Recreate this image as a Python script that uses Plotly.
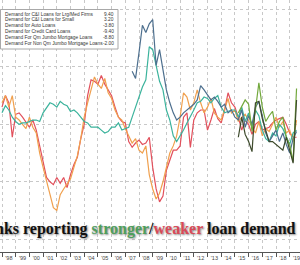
import plotly.graph_objects as go

# ---------------- data (net % of banks, quarterly from 1998 Q1) ----------------
start_year = 1998
q_step = 0.25

ci_large = [12, 20, 15, -9,   7, 8, 5, 1,   -2, 3, -4, -15,
            -25, -37, -40, -42,   -37, -41, -37, -44,   -35, -28, -23, -10,
            0, 20, 31, 30,   28, 34, 28, 24,   20, 12, 5, 2,
            1, -12, -16, -13,   -11, -14, -13, -9,   -30, -45, -54, -50,
            -32, -25, -18, -18,   -15, 5, 8, -16,   3, 8, 10, 10,
            -4, 3, 11, 4,   1, 10, 22, 15,   12, 5, -4, 3,
            0, -7, 0, 2,   -4, -3, -2, 1,   3, 4, 5, 0,   -6, -9, -9]

ci_small = [15, 20, 12, 20,   5, 3, 0, -3,   5, -2, -6, -20,
            -30, -40, -50, -58,   -60, -49, -45, -41,   -38, -30, -22, -10,
            5, 15, 25, 33,   28, 25, 32, 22,   18, 10, 5, 3,
            -3, -8, -13, -10,   -18, -20, -15, -35,   -45, -52, -48, -40,
            -30, -20, -15, -8,   5, 22, 19, 10,   15, 24, 15, 8,
            12, 18, 8, 5,   3, 10, 18, 8,   10, 2, 5, 7,
            3, -2, -6, 2,   -8, -3, -5, 0,   5, -2, 2, -6,   -4, -12, 3]

auto = [8, 13, 10, 5,   2, 0, 1, 1,   2, 3, 3, 2,
        8, 12, 15, 14,   12, 16, 14, 13,   9, 10, 8, 5,
        2, 1, -2, -2,   -2, -4, -6, -5,   -2, -2, 1, -4,
        -3, -2, 5, 12,   18, 26, 31, 54,   52, 40, 30, 24,
        10, 3, -8, -12,   -8, -4, 1, 5,   10, 15, 16, 19,
        18, 15, 18, 20,   12, 8, 9, 10,   10, 5, 12, 2,
        8, -2, 10, 6,   -4, -10, -12, -6,   -8, 0, -3, -8,   -14, -6, -4]

card_start = 38   # 2007 Q3
credit_card = [37, 32,   50, 69, 64, 70,   73, 41, 52, 38,
               24, 15, 8, 3,   5, 8, 10, 12,   14, 17, 27, 24,
               20, 17, 19, 16,   12, 14, 8, 10,   5, 3, 10, -2,
               6, 0, 12, 16,   6, -6, -12, -8,   -4, -12, -6, -14,   -20, -10, -5]

jumbo_start = 69  # 2015 Q2
qm_jumbo = [8, 12, 17,   14, -5, 10, 29,   12, 2, 6, 9,
            -4, 2, 5, -9,   -14, -26, 25]
non_qm_jumbo = [-9, 5, -7,   -12, -19, 15, 16,   4, -4, -12, -12,
                -14, -16, -18, -9,   -18, -27, 17]

series_names = ["Demand for C&I Loans for Lrg/Med Firms",
                "Demand for C&I Loans for Small",
                "Demand for Auto Loans",
                "Demand for Credit Card Loans",
                "Demand For Qm Jumbo Mortgage Loans",
                "Demand For Non Qm Jumbo Mortgage Loans"]
legend_values = ["9.40", "3.20", "-3.80", "-9.40", "-8.80", "-2.00"]

year_labels = ["'98", "'99", "'00", "'01", "'02", "'03", "'04", "'05", "'06", "'07", "'08",
               "'09", "'10", "'11", "'12", "'13", "'14", "'15", "'16", "'17", "'18", "'19"]

title_black = "% of Banks reporting "
title_green = "stronger"
title_red = "weaker"
title_end = " loan demand"

# ---------------- styling ----------------
colors = ["#e2505c", "#f0a04e", "#3bb39c", "#4d6f8e", "#72a83c", "#3d4a2c"]
W, H, B = 300, 265, 13
PH = H - B


def px(x):
    return x / W


def py(y):
    return 1 - y / PH


def times(start, n):
    return [start_year + q_step * (start + i) for i in range(n)]


all_series = [(ci_large, 0), (ci_small, 0), (auto, 0), (credit_card, card_start),
              (qm_jumbo, jumbo_start), (non_qm_jumbo, jumbo_start)]

fig = go.Figure()
for (vals, st), name, col in zip(all_series, series_names, colors):
    fig.add_trace(go.Scatter(x=times(st, len(vals)), y=vals, mode="lines", name=name,
                             line=dict(color=col, width=1.2), showlegend=False,
                             hoverinfo="skip"))

years = list(range(start_year, start_year + len(year_labels)))

fig.update_layout(
    width=W, height=H,
    margin=dict(l=0, r=0, t=0, b=B),
    paper_bgcolor="white", plot_bgcolor="white",
    xaxis=dict(range=[1997.854, 2019.752],
               tickmode="array", tickvals=[y + 0.5 for y in years], ticktext=year_labels,
               ticks="", showgrid=False, zeroline=False, ticklabeloverflow="allow",
               showline=True, linecolor="#555", linewidth=1,
               tickfont=dict(family="Liberation Sans", size=5.5, color="#444"),
               minor=dict(tickmode="array", tickvals=years, ticks="outside", ticklen=4,
                          tickcolor="#555", showgrid=True, gridcolor="#c8c8c8",
                          griddash="dot", gridwidth=1)),
    yaxis=dict(range=[-88.9, 86.6], tickmode="array", tickvals=[-80, -40, 0, 40, 80],
               showticklabels=False, ticks="", showgrid=True, gridcolor="#c8c8c8",
               griddash="dot", zeroline=False, showline=False),
)

# legend box
fig.add_shape(type="rect", xref="paper", yref="paper",
              x0=px(0.5), x1=px(118), y0=py(49), y1=py(9.5),
              line=dict(color="#a8a8a8", width=1), fillcolor="white", layer="above")
row_y = [14, 20, 25.8, 31.6, 37.4, 43.2]
for name, val, ry in zip(series_names, legend_values, row_y):
    fig.add_annotation(xref="paper", yref="paper", x=px(2.5), y=py(ry), text=name,
                       xanchor="left", yanchor="middle", showarrow=False,
                       font=dict(family="Liberation Sans", size=4.8, color="#333"))
    fig.add_annotation(xref="paper", yref="paper", x=px(116.5), y=py(ry), text=val,
                       xanchor="right", yanchor="middle", showarrow=False,
                       font=dict(family="Liberation Sans", size=4.8, color="#333"))

# big overlay title
title_html = (title_black
              + "<span style='color:#4f9e5c'>" + title_green + "</span>/"
              + "<span style='color:#d84a58'>" + title_red + "</span>"
              + title_end)
fig.add_annotation(xref="paper", yref="paper", x=px(298), y=py(229), text=title_html,
                   xanchor="right", yanchor="middle", showarrow=False,
                   font=dict(family="Liberation Serif", size=16, color="#111",
                             weight="bold", shadow="1px 1px 2px #888"))

fig.write_html("out.html")
